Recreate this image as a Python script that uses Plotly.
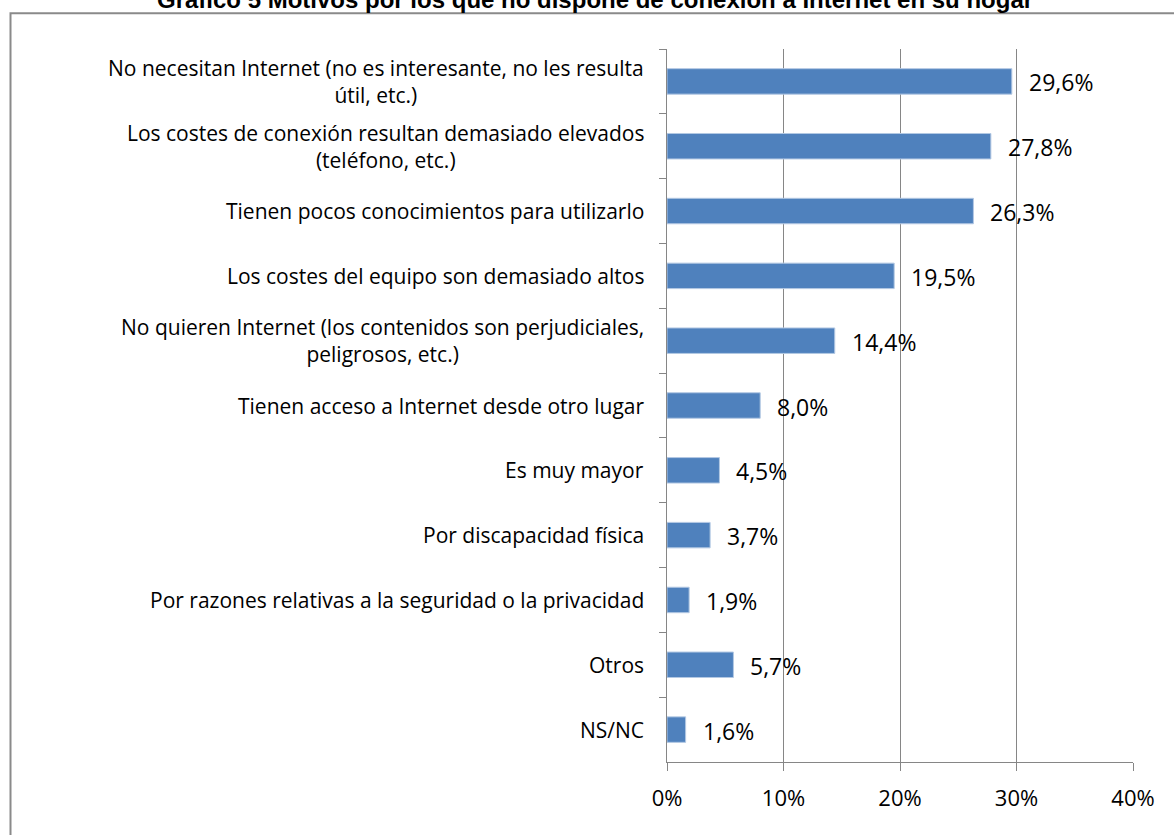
import plotly.graph_objects as go

title_text = "Gráfico 5 Motivos por los que no dispone de conexión a Internet en su hogar"

categories = [
    "No necesitan Internet (no es interesante, no les resulta<br>útil, etc.)",
    "Los costes de conexión resultan demasiado elevados<br>(teléfono, etc.)",
    "Tienen pocos conocimientos para utilizarlo",
    "Los costes del equipo son demasiado altos",
    "No quieren Internet (los contenidos son perjudiciales,<br>peligrosos, etc.)",
    "Tienen acceso a Internet desde otro lugar",
    "Es muy mayor",
    "Por discapacidad física",
    "Por razones relativas a la seguridad o la privacidad",
    "Otros",
    "NS/NC",
]
values = [29.6, 27.8, 26.3, 19.5, 14.4, 8.0, 4.5, 3.7, 1.9, 5.7, 1.6]
value_labels = ["29,6%", "27,8%", "26,3%", "19,5%", "14,4%", "8,0%", "4,5%", "3,7%", "1,9%", "5,7%", "1,6%"]
x_ticks = [0, 10, 20, 30, 40]
x_tick_labels = ["0%", "10%", "20%", "30%", "40%"]

GRID = "#868686"
FONT = "Open Sans"

plot_left, plot_right = 667, 1133
plot_top, plot_bottom = 48.7, 762.5
pw = plot_right - plot_left
ph = plot_bottom - plot_top

fig = go.Figure()
fig.add_trace(go.Bar(
    y=categories, x=values, orientation="h",
    marker=dict(color="#4F81BD", line=dict(color="#B3C8E3", width=1)),
    hoverinfo="skip",
))

annotations = []
for cat in categories:
    annotations.append(dict(
        x=0, xref="paper", y=cat, yref="y", text=cat, showarrow=False,
        xanchor="right", yanchor="middle", align="center", xshift=-21,
        font=dict(family=FONT, size=21, color="#000000"),
    ))
for cat, v, lab in zip(categories, values, value_labels):
    annotations.append(dict(
        x=v, xref="x", y=cat, yref="y", text=lab, showarrow=False,
        xanchor="left", yanchor="middle", xshift=15, yshift=-1,
        font=dict(family=FONT, size=23, color="#000000"),
    ))
annotations.append(dict(
    x=(595 - plot_left) / pw, xref="paper", y=1 + (plot_top - 15) / ph, yref="paper",
    text="<b>" + title_text + "</b>",
    showarrow=False, xanchor="center", yanchor="bottom",
    font=dict(family="Liberation Sans", size=24, color="#000000"),
))

fig.update_layout(
    width=1174, height=835,
    margin=dict(l=plot_left, r=1174 - plot_right, t=plot_top, b=835 - plot_bottom, pad=0),
    paper_bgcolor="white", plot_bgcolor="white",
    showlegend=False,
    bargap=0.607,
    annotations=annotations,
    shapes=[dict(
        type="rect", xref="paper", yref="paper",
        x0=(10.5 - plot_left) / pw, x1=(1185 - plot_left) / pw,
        y0=-(845 - plot_bottom) / ph, y1=1 + (plot_top - 13) / ph,
        line=dict(color="#8a8a8a", width=2), fillcolor="rgba(0,0,0,0)", layer="below",
    )],
    xaxis=dict(
        range=[0, 40], tickvals=x_ticks, ticktext=x_tick_labels,
        showgrid=True, gridcolor=GRID, gridwidth=1,
        showline=True, linecolor=GRID, linewidth=1,
        ticks="outside", ticklen=8, tickcolor=GRID, tickwidth=1,
        ticklabelstandoff=9,
        tickfont=dict(family=FONT, size=22, color="#000000"),
        zeroline=False, fixedrange=True,
    ),
    yaxis=dict(
        autorange="reversed", showticklabels=False,
        showline=True, linecolor=GRID, linewidth=1,
        ticks="outside", ticklen=7, tickcolor=GRID, tickwidth=1,
        tickson="boundaries", showgrid=False, zeroline=False, fixedrange=True,
    ),
)

fig.write_html("out.html")
